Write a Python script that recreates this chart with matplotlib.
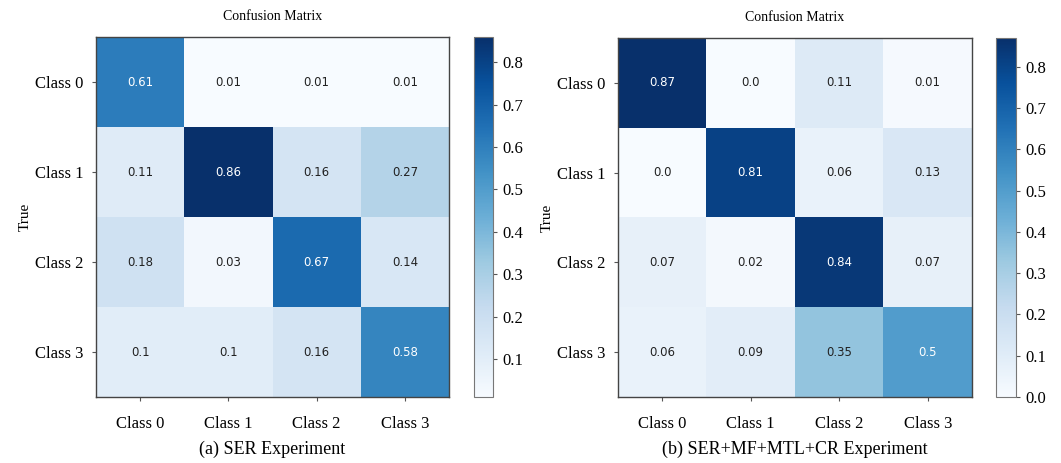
import numpy as np
import matplotlib
matplotlib.use("Agg")
import matplotlib.pyplot as plt

classes = ["Class 0", "Class 1", "Class 2", "Class 3"]

cm_ser = np.array([
    [0.61, 0.01, 0.01, 0.01],
    [0.11, 0.86, 0.16, 0.27],
    [0.18, 0.03, 0.67, 0.14],
    [0.10, 0.10, 0.16, 0.58],
])
labels_ser = [
    ["0.61", "0.01", "0.01", "0.01"],
    ["0.11", "0.86", "0.16", "0.27"],
    ["0.18", "0.03", "0.67", "0.14"],
    ["0.1", "0.1", "0.16", "0.58"],
]

cm_full = np.array([
    [0.87, 0.00, 0.11, 0.01],
    [0.00, 0.81, 0.06, 0.13],
    [0.07, 0.02, 0.84, 0.07],
    [0.06, 0.09, 0.35, 0.50],
])
labels_full = [
    ["0.87", "0.0", "0.11", "0.01"],
    ["0.0", "0.81", "0.06", "0.13"],
    ["0.07", "0.02", "0.84", "0.07"],
    ["0.06", "0.09", "0.35", "0.5"],
]

captions = ["(a) SER Experiment", "(b) SER+MF+MTL+CR Experiment"]

serif = ["Liberation Serif", "DejaVu Serif"]
plt.rcParams["font.family"] = serif

W, H = 1061, 463
fig = plt.figure(figsize=(W / 100, H / 100), dpi=100)


def px_rect(x0, y0, x1, y1):
    return [x0 / W, 1 - y1 / H, (x1 - x0) / W, (y1 - y0) / H]


panels = [
    (cm_ser, labels_ser, captions[0], (96, 37, 449, 397), (474, 37, 493, 397)),
    (cm_full, labels_full, captions[1], (618, 38, 972, 397), (996, 38, 1016, 397)),
]

for cm, lab, cap, ax_box, cb_box in panels:
    ax = fig.add_axes(px_rect(*ax_box))
    im = ax.imshow(cm, cmap="Blues", aspect="auto", interpolation="nearest")
    thresh = cm.max() / 2.0
    for i in range(cm.shape[0]):
        for j in range(cm.shape[1]):
            ax.text(j, i, lab[i][j], ha="center", va="center",
                    fontsize=8.5, family="DejaVu Sans",
                    color="white" if cm[i, j] > thresh else "#222222")
    ax.set_xticks(range(len(classes)))
    ax.set_yticks(range(len(classes)))
    ax.set_xticklabels(classes, fontsize=12)
    ax.set_yticklabels(classes, fontsize=12)
    ax.tick_params(length=3, width=0.8, color="#555555", pad=11)
    ax.tick_params(axis="y", pad=6)
    for sp in ax.spines.values():
        sp.set_color("#444444")
        sp.set_linewidth(1.0)
    ax.set_title("Confusion Matrix", fontsize=10, pad=12)
    ax.set_ylabel("True", fontsize=11, labelpad=2)
    ax.set_xlabel(cap, fontsize=13, labelpad=6)

    cax = fig.add_axes(px_rect(*cb_box))
    cb = fig.colorbar(im, cax=cax)
    cb.outline.set_edgecolor("#777777")
    cb.outline.set_linewidth(0.8)
    ticks = [t for t in np.round(np.arange(0.0, 0.81, 0.1), 1)
             if cm.min() - 1e-9 <= t <= cm.max() + 1e-9]
    cb.set_ticks(ticks)
    cax.tick_params(labelsize=12, length=3, width=0.8, color="#555555")

fig.savefig("out.png", dpi=100)
